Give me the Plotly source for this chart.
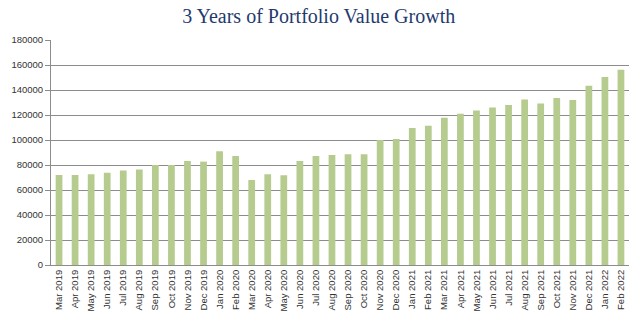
import plotly.graph_objects as go

months = ["Mar 2019", "Apr 2019", "May 2019", "Jun 2019", "Jul 2019", "Aug 2019",
          "Sep 2019", "Oct 2019", "Nov 2019", "Dec 2019", "Jan 2020", "Feb 2020",
          "Mar 2020", "Apr 2020", "May 2020", "Jun 2020", "Jul 2020", "Aug 2020",
          "Sep 2020", "Oct 2020", "Nov 2020", "Dec 2020", "Jan 2021", "Feb 2021",
          "Mar 2021", "Apr 2021", "May 2021", "Jun 2021", "Jul 2021", "Aug 2021",
          "Sep 2021", "Oct 2021", "Nov 2021", "Dec 2021", "Jan 2022", "Feb 2022"]
values = [72000, 72000, 72600, 73800, 75600, 76400,
          80000, 80000, 83200, 82700, 91000, 87200,
          68000, 72600, 71800, 83200, 87200, 88000,
          88600, 88600, 100000, 100800, 109700, 111500,
          117900, 121100, 123700, 126100, 128000, 132500,
          129300, 133600, 132000, 143500, 150400, 156300]
y_ticks = [0, 20000, 40000, 60000, 80000, 100000, 120000, 140000, 160000, 180000]

fig = go.Figure(go.Bar(x=months, y=values, marker=dict(color="#B5CC8E", line=dict(width=0))))

fig.update_layout(
    width=640, height=329,
    margin=dict(l=51, r=11, t=40, b=64),
    paper_bgcolor="white", plot_bgcolor="white",
    bargap=0.58,
    showlegend=False,
    title=dict(text="3 Years of Portfolio Value Growth", x=0.498, xanchor="center",
               y=0.95, yanchor="middle",
               font=dict(family="Liberation Serif, DejaVu Serif, serif", size=20, color="#1F3A6E")),
    font=dict(family="Liberation Sans, Arial, sans-serif", size=9, color="#333"),
)
fig.update_yaxes(range=[0, 180000], tickvals=y_ticks, ticktext=[str(v) for v in y_ticks],
                 showgrid=True, gridcolor="#8C8C8C", gridwidth=1,
                 showline=True, linecolor="#8C8C8C", linewidth=1,
                 ticks="outside", ticklen=5, tickcolor="#8C8C8C",
                 tickfont=dict(size=9.5, color="#333"), zeroline=False)
fig.update_xaxes(tickangle=-90, showline=True, linecolor="#8C8C8C", linewidth=1,
                 ticks="", tickfont=dict(size=9.5, color="#333"), showgrid=False)

fig.write_html("out.html")
